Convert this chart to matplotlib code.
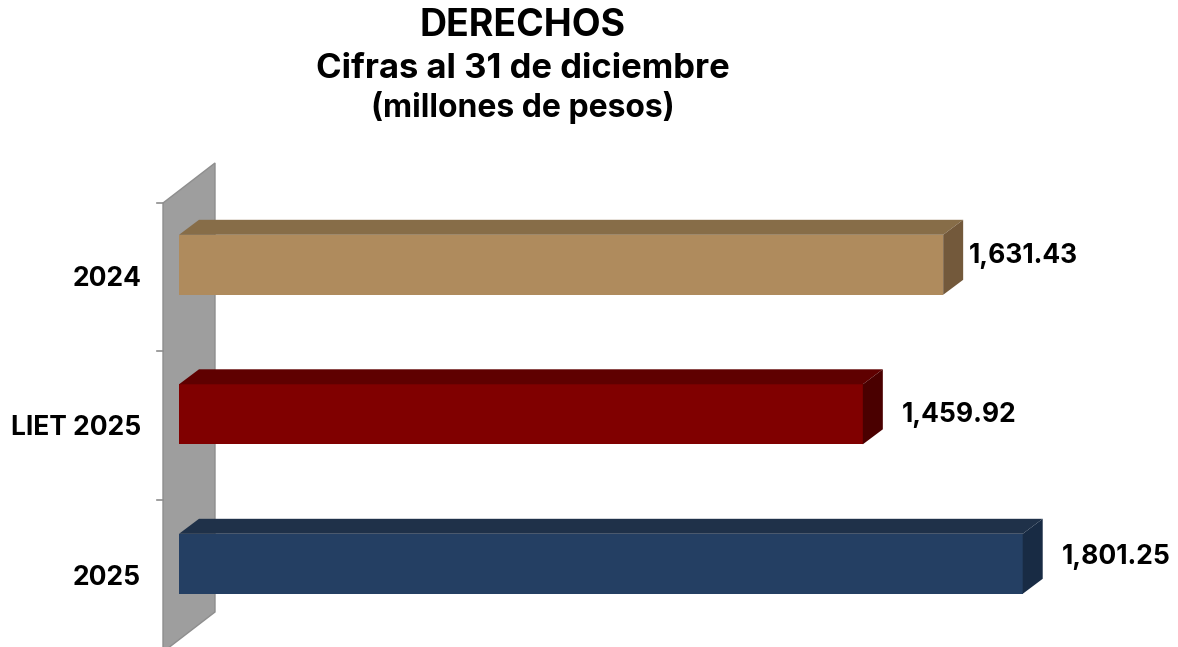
"""Horizontal pseudo-3D bar chart: DERECHOS, 2024 / LIET 2025 / 2025."""
import matplotlib

matplotlib.use("Agg")
import matplotlib.pyplot as plt  # noqa: E402
from matplotlib.patches import Polygon  # noqa: E402
from matplotlib.transforms import ScaledTranslation  # noqa: E402

categories = ["2024", "LIET 2025", "2025"]
values = [1631.43, 1459.92, 1801.25]
value_labels = ["1,631.43", "1,459.92", "1,801.25"]
front_colors = ["#AF8B5D", "#800000", "#243F63"]
top_colors = ["#876D48", "#5F0000", "#1F3149"]
side_colors = ["#73593B", "#4A0000", "#182B44"]
title_lines = ["DERECHOS", "Cifras al 31 de diciembre", "(millones de pesos)"]

W, H = 1178, 647
DPI = 100
X0, PX_PER_UNIT = 179.0, 0.4684   # pixel of value 0, horizontal scale
Y0, PX_PER_CAT = 264.8, 149.5     # pixel row of first bar centre, spacing
DEPTH_X, DEPTH_Y = 20, 15         # fake 3D depth in pixels
BAR_PX = 60
FONT = "Inter"

# (dx, dy) of each value label from the bar's front end, pixels
label_offsets = [(26, 9), (39, -1), (39, 7)]
# (dx, dy) of category labels from the value 0 position
cat_offset = (-38, -14)

fig = plt.figure(figsize=(W / DPI, H / DPI), dpi=DPI, facecolor="white")
ax = fig.add_axes([X0 / W, 0, 1 - X0 / W, 1])
ax.set_xlim(0, (W - X0) / PX_PER_UNIT)
ax.set_ylim((H - Y0) / PX_PER_CAT, -Y0 / PX_PER_CAT)
ax.axis("off")


def px(x, y):
    # image pixel (origin top-left) to display coordinates
    return (x, H - y)


def shifted(dx, dy):
    return ax.transData + ScaledTranslation(dx / DPI, dy / DPI, fig.dpi_scale_trans)


# grey back wall + tick marks, in pixel space (not data)
wall = [px(163, 203), px(215, 163), px(215, 612), px(163, 652)]
fig.add_artist(Polygon(wall, closed=True, facecolor="#9E9E9E", edgecolor="#8E8E8E",
                       linewidth=1.0, transform=None, zorder=0))
for ty in [203, 351, 500]:
    x1, y1 = px(157, ty)
    x2, y2 = px(163, ty)
    fig.add_artist(plt.Line2D([x1, x2], [y1, y2], color="#8E8E8E", linewidth=1.2, transform=None))

h = BAR_PX / PX_PER_CAT
dx_data = DEPTH_X / PX_PER_UNIT
dy_data = DEPTH_Y / PX_PER_CAT
for i, val in enumerate(values):
    top, bot = i - h / 2, i + h / 2
    ax.barh(i, val, height=h, color=front_colors[i], zorder=3)
    ax.add_patch(Polygon([(0, top), (dx_data, top - dy_data), (val + dx_data, top - dy_data), (val, top)],
                         closed=True, facecolor=top_colors[i], edgecolor="none", zorder=3))
    ax.add_patch(Polygon([(val, top), (val + dx_data, top - dy_data), (val + dx_data, bot - dy_data), (val, bot)],
                         closed=True, facecolor=side_colors[i], edgecolor="none", zorder=3))
    lx, ly = label_offsets[i]
    ax.text(val, i, value_labels[i], transform=shifted(lx, ly), ha="left", va="center",
            fontsize=19, fontweight="bold", family=FONT, color="black", zorder=4)
    ax.text(0, i, categories[i], transform=shifted(*cat_offset), ha="right", va="center",
            fontsize=19, fontweight="bold", family=FONT, color="black", clip_on=False, zorder=4)

for line, y_px, size in zip(title_lines, [26, 69, 107], [26.9, 24.9, 23]):
    fig.text(523 / W, 1 - y_px / H, line, ha="center", va="center", fontsize=size,
             fontweight="bold", family=FONT, color="black")

fig.savefig("out.png", dpi=DPI, facecolor="white")
